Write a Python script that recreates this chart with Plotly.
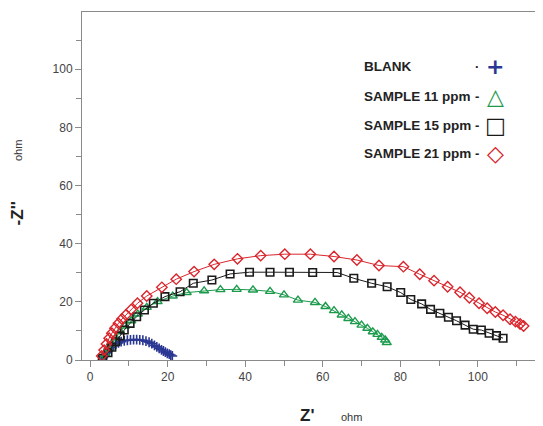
"""
Diagramme de Nyquist (impédance) : BLANK et échantillons 11 / 15 / 21 ppm
"""
import plotly.graph_objects as go

######## DONNEES

blank_x = [3.2, 3.4, 3.6, 3.9, 4.2, 4.6, 5.0, 5.5, 6.0, 6.6, 7.3, 8.0, 8.8, 9.6, 10.4, 11.2,
           12.0, 12.8, 13.6, 14.4, 15.2, 15.9, 16.6, 17.2, 17.8, 18.4, 18.9, 19.4, 19.9, 20.4, 20.8, 21.2]
blank_y = [0.3, 0.8, 1.3, 1.9, 2.5, 3.1, 3.7, 4.3, 4.9, 5.4, 5.9, 6.3, 6.6, 6.8, 6.9, 7.0,
           7.0, 6.9, 6.8, 6.5, 6.1, 5.6, 5.0, 4.5, 4.0, 3.5, 3.1, 2.7, 2.3, 2.0, 1.7, 1.4]

s11_x = [3.0, 3.9, 4.7, 5.6, 6.6, 7.7, 9.0, 10.6, 12.3, 14.6, 17.4, 21.3, 24.9, 29.4, 33.6, 37.8, 42.0,
         46.4, 50.0, 53.6, 58.0, 60.7, 62.9, 64.9, 66.6, 68.3, 70.0, 71.5, 72.9, 74.1, 75.2, 76.1, 76.5]
s11_y = [0.2, 2.1, 3.9, 5.7, 7.7, 9.8, 11.7, 13.5, 15.8, 18.1, 20.1, 22.0, 23.2, 23.8, 24.2, 24.3, 24.1,
         23.6, 22.4, 20.6, 19.8, 18.4, 17.0, 15.5, 14.3, 13.2, 12.0, 10.9, 9.7, 8.8, 7.8, 6.9, 6.0]

s15_x = [3.2, 4.6, 5.6, 6.6, 7.7, 8.8, 10.3, 12.0, 14.0, 16.3, 19.3, 23.2, 26.6, 31.4, 36.1, 41.1, 46.4,
         51.4, 57.4, 63.7, 68.0, 72.6, 76.6, 80.1, 82.7, 85.5, 87.8, 90.2, 92.4, 94.5, 96.7, 98.8,
         100.9, 102.9, 104.8, 106.5]
s15_y = [0.6, 2.5, 4.4, 6.3, 8.3, 10.3, 12.6, 14.9, 17.2, 19.5, 21.8, 23.5, 26.4, 27.5, 29.6, 30.2, 30.2,
         30.2, 30.1, 30.1, 28.1, 26.4, 25.2, 23.2, 20.8, 19.3, 17.4, 16.1, 14.7, 13.5, 12.0, 10.6,
         10.3, 9.2, 8.4, 7.5]

s21_x = [3.0, 3.6, 4.2, 4.9, 5.6, 6.4, 7.3, 8.2, 9.2, 10.6, 12.2, 14.6, 18.5, 22.2, 26.8, 32.0, 38.0,
         44.0, 50.2, 56.8, 62.9, 68.8, 74.5, 80.8, 85.0, 88.7, 92.2, 95.4, 97.8, 100.3, 102.4, 104.5,
         106.5, 108.3, 109.7, 110.9, 111.8]
s21_y = [1.4, 3.4, 5.5, 7.5, 9.2, 10.9, 12.6, 14.1, 15.5, 17.4, 19.5, 22.0, 25.0, 27.8, 30.4, 32.9, 34.8,
         35.9, 36.4, 36.4, 35.6, 34.4, 32.5, 32.1, 29.5, 27.3, 25.2, 23.3, 21.4, 19.5, 17.8, 16.5,
         15.4, 14.0, 13.2, 12.4, 11.7]

x_ticks = [0, 20, 40, 60, 80, 100]
y_ticks = [0, 20, 40, 60, 80, 100]

BLUE = '#2b3893'
GREEN = '#1c9a4c'
BLACK = '#1a1a1a'
RED = '#d9252c'
AXIS = '#8a8a8a'
FONT = 'Liberation Sans, Arial, sans-serif'

######## FIGURE

fig = go.Figure()

series = [
    (blank_x, blank_y, BLUE, 'cross-thin-open', 7, 1.6),
    (s11_x, s11_y, GREEN, 'triangle-up-open', 8, 1.4),
    (s15_x, s15_y, BLACK, 'square-open', 7.5, 1.6),
    (s21_x, s21_y, RED, 'diamond-open', 8, 1.4),
]
for xs, ys, col, sym, size, lw in series:
    fig.add_trace(go.Scatter(
        x=xs, y=ys, mode='lines+markers',
        line=dict(color=col, width=1),
        marker=dict(symbol=sym, size=size, color=col, line=dict(color=col, width=lw)),
        showlegend=False, hoverinfo='skip'))

#Légende "maison" : texte à gauche, symbole à droite
legend_rows = [
    ('BLANK', '·', '+', BLUE, 0.842),
    ('SAMPLE 11 ppm', '-', '△', GREEN, 0.756),
    ('SAMPLE 15 ppm', '-', '□', BLACK, 0.673),
    ('SAMPLE 21 ppm', '-', '◇', RED, 0.592),
]
for label, sep, sym, col, yy in legend_rows:
    fig.add_annotation(xref='paper', yref='paper', x=0.607, y=yy, text='<b>' + label + '</b>',
                       showarrow=False, xanchor='left', yanchor='middle',
                       font=dict(family=FONT, size=13.5, color='#222'))
    fig.add_annotation(xref='paper', yref='paper', x=0.857, y=yy, text='<b>' + sep + '</b>',
                       showarrow=False, xanchor='center', yanchor='middle',
                       font=dict(family=FONT, size=13, color='#222'))
    fig.add_annotation(xref='paper', yref='paper', x=0.896, y=yy, text='<b>' + sym + '</b>',
                       showarrow=False, xanchor='center', yanchor='middle',
                       font=dict(family='DejaVu Sans, sans-serif', size=22, color=col))

#Titres des axes
fig.add_annotation(xref='paper', yref='paper', x=-0.139, y=0.421, text="<b>-Z''</b>",
                   textangle=-90, showarrow=False, xanchor='center', yanchor='middle',
                   font=dict(family=FONT, size=17, color='#222'))
fig.add_annotation(xref='paper', yref='paper', x=-0.139, y=0.603, text='ohm',
                   textangle=-90, showarrow=False, xanchor='center', yanchor='middle',
                   font=dict(family=FONT, size=11, color='#333'))
fig.add_annotation(xref='paper', yref='paper', x=0.488, y=-0.16, text="<b>Z'</b>",
                   showarrow=False, xanchor='center', yanchor='middle',
                   font=dict(family=FONT, size=17, color='#222'))
fig.add_annotation(xref='paper', yref='paper', x=0.585, y=-0.165, text='ohm',
                   showarrow=False, xanchor='center', yanchor='middle',
                   font=dict(family=FONT, size=11, color='#333'))

fig.update_xaxes(range=[-2.1, 116.8], tickvals=x_ticks, ticks='outside', ticklen=6,
                 tickcolor=AXIS, showline=True, linecolor=AXIS, linewidth=1, mirror=True,
                 showgrid=False, zeroline=False,
                 minor=dict(tickvals=[10, 30, 50, 70, 90, 110], ticks='outside', ticklen=5, tickcolor=AXIS),
                 tickfont=dict(family=FONT, size=12, color='#444'))
fig.update_yaxes(range=[0, 119.7], tickvals=y_ticks, ticks='outside', ticklen=6,
                 tickcolor=AXIS, showline=True, linecolor=AXIS, linewidth=1,
                 showgrid=False, zeroline=False,
                 minor=dict(tickvals=[10, 30, 50, 70, 90, 110], ticks='outside', ticklen=5, tickcolor=AXIS),
                 tickfont=dict(family=FONT, size=12, color='#444'))

#La page html ajoute une marge de 8 px : on la compense dans les marges
fig.update_layout(width=543, height=426, margin=dict(l=74, r=8, t=4, b=74),
                  plot_bgcolor='white', paper_bgcolor='white')

fig.write_html("out.html")
